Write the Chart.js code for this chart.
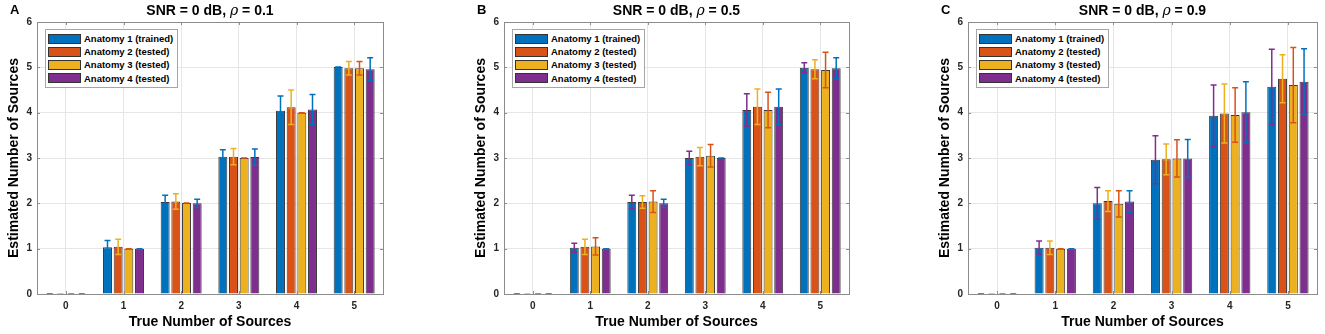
<!DOCTYPE html>
<html>
<head>
<meta charset="utf-8">
<script src="https://cdn.jsdelivr.net/npm/chart.js@4.4.0/dist/chart.umd.min.js"></script>
<style>
  html, body { margin:0; padding:0; background:#fff; }
  body { width:1325px; height:334px; position:relative; overflow:hidden; font-family:"Liberation Sans", Arial, sans-serif; }
  canvas { position:absolute; top:0; }
  .ptitle { position:absolute; top:0; height:20px; line-height:20px; font-weight:bold; font-size:14px; color:#000; white-space:nowrap; transform:translateX(-50%); }
  .ptitle i { font-family:"DejaVu Serif", serif; font-weight:normal; }
  .letter { position:absolute; top:1px; font-weight:bold; font-size:13px; line-height:18px; color:#000; }
  .legend { position:absolute; background:#fff; border:1px solid #a6a6a6; padding:2px 4px 2px 2px; }
  .legend .row { display:flex; align-items:center; height:13.2px; }
  .legend .sw { width:31px; height:8px; border:1px solid #333; margin-right:3px; }
  .legend .tx { font-weight:bold; font-size:9.5px; color:#000; white-space:nowrap; }
</style>
</head>
<body>
<canvas id="cA" width="440" height="334" style="left:0px"></canvas>
<canvas id="cB" width="440" height="334" style="left:467px"></canvas>
<canvas id="cC" width="394" height="334" style="left:931px"></canvas>
<script>
// ---------- DATA ----------
const categories = ['0', '1', '2', '3', '4', '5'];
const seriesLabels = ['Anatomy 1 (trained)', 'Anatomy 2 (tested)', 'Anatomy 3 (tested)', 'Anatomy 4 (tested)'];
const yTicks = [0, 1, 2, 3, 4, 5, 6];
const panelTitles = ['SNR = 0 dB, <i>\u03c1</i> = 0.1', 'SNR = 0 dB, <i>\u03c1</i> = 0.5', 'SNR = 0 dB, <i>\u03c1</i> = 0.9'];
const panelLetters = ['A', 'B', 'C'];

// Panel A (rho = 0.1)
const meanA1 = [0, 1.03, 2.03, 3.03, 4.04, 5.01];
const errA1  = [0, 0.15, 0.15, 0.15, 0.33, 0];
const meanA2 = [0, 1.04, 2.04, 3.03, 4.12, 4.98];
const errA2  = [0, 0.17, 0.17, 0.18, 0.38, 0.15];
const meanA3 = [0, 1.00, 2.01, 3.00, 4.00, 4.98];
const errA3  = [0, 0, 0, 0, 0, 0.15];
const meanA4 = [0, 1.00, 2.00, 3.02, 4.07, 4.96];
const errA4  = [0, 0, 0.09, 0.18, 0.33, 0.25];

// Panel B (rho = 0.5)
const meanB1 = [0, 1.02, 2.03, 3.00, 4.06, 4.99];
const errB1  = [0, 0.10, 0.15, 0.15, 0.36, 0.11];
const meanB2 = [0, 1.04, 2.03, 3.03, 4.13, 4.96];
const errB2  = [0, 0.17, 0.14, 0.20, 0.39, 0.21];
const meanB3 = [0, 1.05, 2.04, 3.05, 4.06, 4.94];
const errB3  = [0, 0.19, 0.24, 0.25, 0.39, 0.39];
const meanB4 = [0, 1.00, 2.00, 3.00, 4.13, 4.98];
const errB4  = [0, 0, 0.09, 0, 0.39, 0.23];

// Panel C (rho = 0.9)
const meanC1 = [0, 1.02, 2.00, 2.96, 3.93, 4.57];
const errC1  = [0, 0.15, 0.35, 0.53, 0.68, 0.83];
const meanC2 = [0, 1.02, 2.05, 2.97, 3.98, 4.75];
const errC2  = [0, 0.15, 0.23, 0.34, 0.65, 0.53];
const meanC3 = [0, 1.00, 1.99, 2.99, 3.95, 4.61];
const errC3  = [0, 0, 0.29, 0.41, 0.60, 0.83];
const meanC4 = [0, 1.00, 2.04, 2.99, 4.01, 4.68];
const errC4  = [0, 0, 0.24, 0.42, 0.67, 0.73];

// ---------- STYLE ----------
const BLUE = '#0072BD', ORANGE = '#D95319', YELLOW = '#EDB120', PURPLE = '#7E2F8E';
const barColors = [BLUE, ORANGE, YELLOW, PURPLE];
const errColorsA = [BLUE, YELLOW, ORANGE, BLUE];
const errColorsBC = [PURPLE, YELLOW, ORANGE, BLUE];
const FONT = '"Liberation Sans", Arial, sans-serif';

const errorBarPlugin = {
  id: 'errorBars',
  afterDatasetsDraw(chart) {
    const ctx = chart.ctx;
    const ys = chart.scales.y;
    ctx.save();
    chart.data.datasets.forEach((ds, i) => {
      const meta = chart.getDatasetMeta(i);
      if (!ds.errors) return;
      meta.data.forEach((el, j) => {
        const v = ds.data[j], e = ds.errors[j];
        const x = el.x;
        const yt = ys.getPixelForValue(v + e);
        const yb = ys.getPixelForValue(v - e);
        ctx.strokeStyle = ds.errorColor;
        ctx.lineWidth = 1.5;
        ctx.beginPath();
        ctx.moveTo(x, yt); ctx.lineTo(x, yb);
        ctx.moveTo(x - 3, yt); ctx.lineTo(x + 3, yt);
        ctx.moveTo(x - 3, yb); ctx.lineTo(x + 3, yb);
        ctx.stroke();
      });
    });
    ctx.restore();
  }
};

const boxPlugin = {
  id: 'axesBox',
  afterDraw(chart) {
    const {ctx, chartArea: a} = chart;
    const xs = chart.scales.x, ys = chart.scales.y;
    ctx.save();
    ctx.strokeStyle = '#8c8c8c';
    ctx.lineWidth = 1;
    ctx.beginPath();
    ys.ticks.forEach((t, i) => {
      const y = Math.round(ys.getPixelForTick(i)) + 0.5;
      ctx.moveTo(a.left, y); ctx.lineTo(a.left + 3, y);
      ctx.moveTo(a.right, y); ctx.lineTo(a.right - 3, y);
    });
    xs.ticks.forEach((t, i) => {
      const x = Math.round(xs.getPixelForTick(i)) + 0.5;
      ctx.moveTo(x, a.bottom); ctx.lineTo(x, a.bottom - 3);
      ctx.moveTo(x, a.top); ctx.lineTo(x, a.top + 3);
    });
    ctx.stroke();
    ctx.strokeRect(Math.round(a.left) + 0.5, Math.round(a.top) + 0.5, Math.round(a.right - a.left), Math.round(a.bottom - a.top));
    ctx.restore();
  }
};

function makeDatasets(means, errs, errColors) {
  return means.map((m, i) => ({
    label: seriesLabels[i],
    data: m,
    errors: errs[i],
    errorColor: errColors[i],
    backgroundColor: barColors[i],
    borderColor: '#3a3a3a',
    borderWidth: 1,
    categoryPercentage: 0.74,
    barPercentage: 0.84
  }));
}

function makeChart(id, means, errs, errColors, padRight, idx, canvasLeft) {
  const chart = new Chart(document.getElementById(id), {
    type: 'bar',
    data: { labels: categories, datasets: makeDatasets(means, errs, errColors) },
    options: {
      responsive: false,
      animation: false,
      devicePixelRatio: 1,
      layout: { padding: { left: 0, right: padRight, top: 22, bottom: 0 } },
      plugins: { legend: { display: false }, title: { display: false }, tooltip: { enabled: false } },
      scales: {
        x: {
          grid: { offset: false, color: '#e6e6e6', drawTicks: false },
          border: { display: false },
          ticks: { padding: 6, color: '#262626', font: { family: FONT, size: 10, weight: 'bold' } },
          title: { display: true, text: 'True Number of Sources', color: '#000', padding: { top: 0, bottom: 3 }, font: { family: FONT, size: 14, weight: 'bold' } },
          afterFit(s) { s.height = 40; }
        },
        y: {
          min: yTicks[0], max: yTicks[yTicks.length - 1],
          afterBuildTicks(s) { s.ticks = yTicks.map(v => ({ value: v })); },
          grid: { color: '#e6e6e6', drawTicks: false },
          border: { display: false },
          ticks: { padding: 5, color: '#262626', font: { family: FONT, size: 10, weight: 'bold' } },
          title: { display: true, text: 'Estimated Number of Sources', color: '#000', padding: { top: 6, bottom: 0 }, font: { family: FONT, size: 14, weight: 'bold' } },
          afterFit(s) { s.width = 37; }
        }
      }
    },
    plugins: [errorBarPlugin, boxPlugin]
  });
  const a = chart.chartArea;
  const t = document.createElement('div');
  t.className = 'ptitle';
  t.innerHTML = panelTitles[idx];
  t.style.left = (canvasLeft + (a.left + a.right) / 2) + 'px';
  document.body.appendChild(t);
  const l = document.createElement('div');
  l.className = 'letter';
  l.textContent = panelLetters[idx];
  l.style.left = (canvasLeft + 10) + 'px';
  document.body.appendChild(l);
  const lg = document.createElement('div');
  lg.className = 'legend';
  lg.style.left = (canvasLeft + a.left + 8) + 'px';
  lg.style.top = (a.top + 7) + 'px';
  chart.data.datasets.forEach(ds => {
    const r = document.createElement('div');
    r.className = 'row';
    const sw = document.createElement('div');
    sw.className = 'sw';
    sw.style.background = ds.backgroundColor;
    const tx = document.createElement('div');
    tx.className = 'tx';
    tx.textContent = ds.label;
    r.appendChild(sw); r.appendChild(tx);
    lg.appendChild(r);
  });
  document.body.appendChild(lg);
  return chart;
}

makeChart('cA', [meanA1, meanA2, meanA3, meanA4], [errA1, errA2, errA3, errA4], errColorsA, 57, 0, 0);
makeChart('cB', [meanB1, meanB2, meanB3, meanB4], [errB1, errB2, errB3, errB4], errColorsBC, 58, 1, 467);
makeChart('cC', [meanC1, meanC2, meanC3, meanC4], [errC1, errC2, errC3, errC4], errColorsBC, 8, 2, 931);
</script>
</body>
</html>
